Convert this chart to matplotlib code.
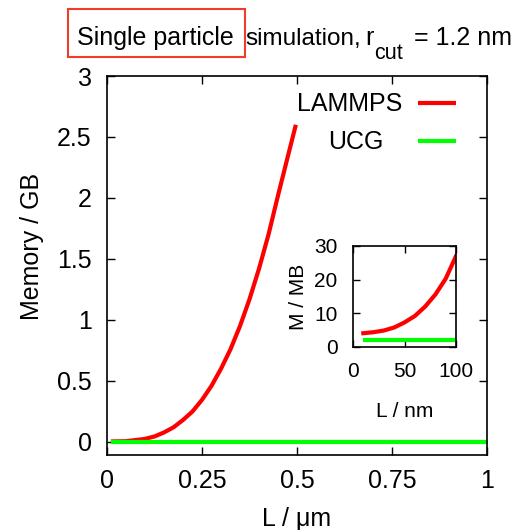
import matplotlib
matplotlib.use("Agg")
import matplotlib.pyplot as plt
from matplotlib.patches import Rectangle

plt.rcParams['font.family'] = ['Liberation Sans', 'DejaVu Sans']

# ---- data (main panel: L in um, memory in GB) ----
L_lammps = [0.01, 0.05, 0.10, 0.125, 0.15, 0.175, 0.20, 0.225, 0.25, 0.275, 0.30,
            0.325, 0.35, 0.375, 0.40, 0.425, 0.45, 0.475, 0.497]
M_lammps = [0.004, 0.006, 0.025, 0.045, 0.078, 0.12, 0.18, 0.25, 0.345, 0.46, 0.60,
            0.76, 0.95, 1.17, 1.42, 1.70, 2.02, 2.33, 2.60]
L_ucg = [0.01, 1.0]
M_ucg = [0.002, 0.002]

# ---- inset data (L in nm, memory in MB) ----
Li_lammps = [10, 20, 30, 40, 50, 60, 70, 80, 90, 100]
Mi_lammps = [4.1, 4.4, 4.9, 5.8, 7.3, 9.2, 12.0, 15.6, 20.3, 27.0]
Li_ucg = [10, 100]
Mi_ucg = [2.0, 2.0]

x_ticks = [0, 0.25, 0.5, 0.75, 1]
x_ticklabels = ['0', '0.25', '0.5', '0.75', '1']
y_ticks = [0, 0.5, 1, 1.5, 2, 2.5, 3]
y_ticklabels = ['0', '0.5', '1', '1.5', '2', '2.5', '3']
xi_ticks = [0, 50, 100]
yi_ticks = [0, 10, 20, 30]

RED = '#ff0000'
GREEN = '#00ff00'
FS = 18
FSI = 15

fig = plt.figure(figsize=(5.22, 5.30), dpi=100)
W, H = 522, 530

def frac(l, t, r, b):
    return [l / W, 1 - b / H, (r - l) / W, (b - t) / H]

ax = fig.add_axes(frac(107, 76, 487, 455))
ax.plot(L_lammps, M_lammps, color=RED, lw=3, label='LAMMPS', solid_capstyle='butt')
ax.plot(L_ucg, M_ucg, color=GREEN, lw=3, label='UCG', solid_capstyle='butt')
ax.set_xlim(0, 1)
ax.set_ylim(-0.107, 3)
ax.set_xticks(x_ticks)
ax.set_xticklabels(x_ticklabels)
ax.set_yticks(y_ticks)
ax.set_yticklabels(y_ticklabels)
ax.tick_params(direction='in', length=6, width=1, top=True, right=True,
               labelsize=FS)
ax.tick_params(axis='x', pad=10)
ax.tick_params(axis='y', pad=11)
for s in ax.spines.values():
    s.set_linewidth(1.2)
ax.set_xlabel('L / μm', fontsize=FS)
ax.set_ylabel('Memory / GB', fontsize=FS)
ax.xaxis.set_label_coords(0.5, -0.137)
ax.yaxis.set_label_coords(-0.166, 0.549)

leg = ax.legend(loc='upper right', bbox_to_anchor=(0.918, 0.957), frameon=False,
                fontsize=FS, markerfirst=False, handlelength=1.52,
                handletextpad=0.6, labelspacing=0.56, borderpad=0, borderaxespad=0)
for col in leg._legend_handle_box.get_children():
    col.align = 'right'
    rows = col.get_children()
    if len(rows) > 1:
        rows[1].sep = rows[1].sep + 13.7

# inset
axi = fig.add_axes(frac(353, 246, 456, 347))
axi.plot(Li_lammps, Mi_lammps, color=RED, lw=3)
axi.plot(Li_ucg, Mi_ucg, color=GREEN, lw=3, solid_capstyle='butt')
axi.set_xlim(0, 100)
axi.set_ylim(0, 30)
axi.set_xticks(xi_ticks)
axi.set_yticks(yi_ticks)
axi.tick_params(direction='in', length=5, width=1, top=True, right=True,
                labelsize=FSI)
axi.tick_params(axis='x', pad=11)
axi.tick_params(axis='y', pad=11)
for s in axi.spines.values():
    s.set_linewidth(1.2)
axi.set_xlabel('L / nm', fontsize=FSI)
axi.set_ylabel('M / MB', fontsize=FSI)
axi.xaxis.set_label_coords(0.5, -0.545)
axi.yaxis.set_label_coords(-0.44, 0.5)

# title pieces (with boxed first part and a subscript)
base = 1 - 45 / H
fig.text(77 / W, base, 'Single particle', fontsize=FS, ha='left', va='baseline')
fig.text(245 / W, base, 'simulation,', fontsize=17.5, ha='left', va='baseline')
fig.text(365 / W, base, 'r', fontsize=FS, ha='left', va='baseline')
fig.text(374.5 / W, 1 - 59 / H, 'cut', fontsize=15.5, ha='left', va='baseline')
fig.text(414 / W, base, '= 1.2 nm', fontsize=FS, ha='left', va='baseline')
fig.patches.append(Rectangle((68 / W, 1 - 57 / H), (245 - 68) / W, (57 - 9) / H,
                             transform=fig.transFigure, fill=False,
                             edgecolor='#f03c28', lw=1.5))

fig.savefig('out.png', dpi=100)
